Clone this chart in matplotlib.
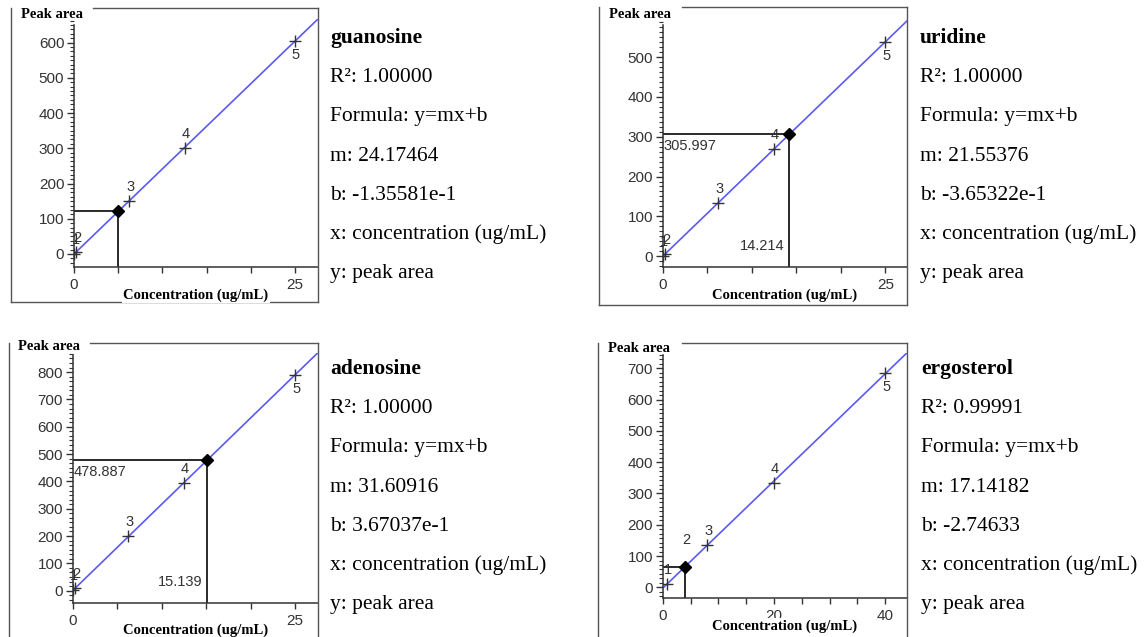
import matplotlib.pyplot as plt
from matplotlib.lines import Line2D
from matplotlib.ticker import MultipleLocator, AutoMinorLocator

# -----------------------------
# Calibration data (4 compounds)
# -----------------------------
names = ["guanosine", "uridine", "adenosine", "ergosterol"]
r2_txt = ["1.00000", "1.00000", "1.00000", "0.99991"]
slopes = [24.17464, 21.55376, 31.60916, 17.14182]
intercepts = [-1.35581e-1, -3.65322e-1, 3.67037e-1, -2.74633]
slope_txt = ["24.17464", "21.55376", "31.60916", "17.14182"]
intercept_txt = ["-1.35581e-1", "-3.65322e-1", "3.67037e-1", "-2.74633"]

conc = [
    [0.05, 0.25, 6.25, 12.5, 25],
    [0.05, 0.25, 6.25, 12.5, 25],
    [0.05, 0.25, 6.25, 12.5, 25],
    [0.8, 4, 8, 20, 40],
]
area = [
    [1.0, 5.9, 151, 302, 604],
    [0.7, 5.0, 134, 270, 538],
    [2.0, 8.3, 200, 395, 790],
    [11, 66, 135, 333, 684],
]
query_x = [5.0, 14.214, 15.139, 4.0]
query_y = [120.7, 305.997, 478.887, 65.8]
query_label = [False, True, True, False]
xtick_shown = [[0, 25], [0, 25], [0, 25], [0, 20, 40]]

# axis ranges
xmax = [27.6, 27.4, 27.56, 43.9]
ylims = [(-37, 667), (-28, 595), (-44, 870), (-35, 750)]
yspine_top = [649, 580, 863, 742]
minor_div = [8, 8, 6, 7]

# -----------------------------
# layout (pixels, from top-left)
# -----------------------------
W, H = 1147, 637
axes_px = [(74, 19, 318, 267), (662.7, 19.3, 906.7, 267.3),
           (72.7, 353, 318, 602.7), (662.7, 352.7, 907, 598.3)]
frame_px = [(11, 8, 318, 302, 93), (599.3, 7.3, 906.7, 305, 681.7),
            (9.3, 342.7, 317.7, 640, 90), (598.3, 342.7, 906.7, 640, 681.7)]
ylab_px = [(51.7, 15), (640, 15), (49, 347), (639.3, 348)]
text_px = [(330, 43), (920, 43), (330, 374), (921, 374)]
line_step = 39.2

SANS = "Liberation Sans"
SERIF = "Liberation Serif"
GRAY = "#333333"
BLUE = "#5a5af2"


def fx(x):
    return x / W


def fy(y):
    return 1 - y / H


fig = plt.figure(figsize=(W / 100, H / 100), dpi=100)
fig.patch.set_facecolor("white")

for i in range(4):
    l, t, r, b = axes_px[i]
    ax = fig.add_axes([fx(l), fy(b), (r - l) / W, (b - t) / H])
    ax.set_xlim(0, xmax[i])
    ax.set_ylim(*ylims[i])
    ax.patch.set_alpha(0)

    for s in ["top", "right"]:
        ax.spines[s].set_visible(False)
    ax.spines["left"].set_bounds(ylims[i][0], yspine_top[i])
    for s in ["left", "bottom"]:
        ax.spines[s].set_color(GRAY)
        ax.spines[s].set_linewidth(1.1)

    # ticks
    ax.yaxis.set_major_locator(MultipleLocator(100))
    ax.yaxis.set_minor_locator(AutoMinorLocator(minor_div[i]))
    xt = list(range(0, int(xmax[i]) + 1, 5))
    ax.set_xticks(xt)
    ax.set_xticklabels([str(v) if v in xtick_shown[i] else "" for v in xt])
    ax.tick_params(axis="y", which="major", length=5, width=1.0, color=GRAY,
                   labelsize=11, labelcolor=GRAY, pad=2)
    ax.tick_params(axis="y", which="minor", length=3, width=0.8, color=GRAY)
    ax.tick_params(axis="x", which="major", length=4, width=1.0, color=GRAY,
                   labelsize=11, labelcolor=GRAY, pad=4)
    for lab in ax.get_xticklabels() + ax.get_yticklabels():
        lab.set_fontfamily(SANS)

    # fitted line
    m, c = slopes[i], intercepts[i]
    ax.plot([0, xmax[i]], [c, m * xmax[i] + c], color=BLUE, lw=1.2, zorder=2)

    # standards
    ax.plot(conc[i], area[i], "+", ms=9, mew=1.0, color=GRAY, zorder=3)
    for k, (xv, yv) in enumerate(zip(conc[i], area[i])):
        dy = -14 if k == 4 else 14
        if i == 3 and k == 1:
            dy = 27
        ax.annotate(str(k + 1), (xv, yv), xytext=(1, dy), textcoords="offset pixels",
                    ha="center", va="center", fontsize=10.5, color=GRAY,
                    fontfamily=SANS, zorder=4)

    # query point with cross lines
    qx, qy = query_x[i], query_y[i]
    ax.plot([0, qx], [qy, qy], color="#2a2a2a", lw=1.4, zorder=2)
    ax.plot([qx, qx], [ylims[i][0], qy], color="#2a2a2a", lw=1.4, zorder=2)
    ax.plot(qx, qy, marker="D", ms=6.5, color="black", zorder=5)
    if query_label[i]:
        ax.annotate(f"{qy:.3f}", (0, qy), xytext=(1, -5), textcoords="offset pixels",
                    ha="left", va="top", fontsize=10.5, color=GRAY, fontfamily=SANS)
        ax.annotate(f"{qx:.3f}", (qx, ylims[i][0]), xytext=(-5, 21),
                    textcoords="offset pixels", ha="right", va="center",
                    fontsize=10.5, color=GRAY, fontfamily=SANS)

    # axis titles
    fig.text(fx((l + r) / 2), fy(b + 28), "Concentration (ug/mL)", ha="center",
             va="center", fontsize=10.5, fontweight="bold", fontfamily=SERIF,
             color="black", bbox=dict(facecolor="white", edgecolor="none", pad=1))
    px, py = ylab_px[i]
    fig.text(fx(px), fy(py), "Peak area", ha="center", va="center", fontsize=10.5,
             fontweight="bold", fontfamily=SERIF, color="black")

    # panel frame
    fl, ft, fr, fb, gap = frame_px[i]
    for xs, ys in [([gap, fr], [ft, ft]), ([fl, fl], [ft, fb]),
                   ([fr, fr], [ft, fb]), ([fl, fr], [fb, fb])]:
        fig.add_artist(Line2D([fx(v) for v in xs], [fy(v) for v in ys],
                              transform=fig.transFigure, color="#555555", lw=1.0))

    # info text
    tx, ty = text_px[i]
    lines = [names[i], "R²: " + r2_txt[i], "Formula: y=mx+b", "m: " + slope_txt[i],
             "b: " + intercept_txt[i], "x: concentration (ug/mL)", "y: peak area"]
    for k, s in enumerate(lines):
        fig.text(fx(tx), fy(ty + k * line_step), s, ha="left", va="baseline",
                 fontsize=15.5, fontfamily=SERIF, color="black",
                 fontweight="bold" if k == 0 else "normal")

plt.savefig("out.png", dpi=100)
